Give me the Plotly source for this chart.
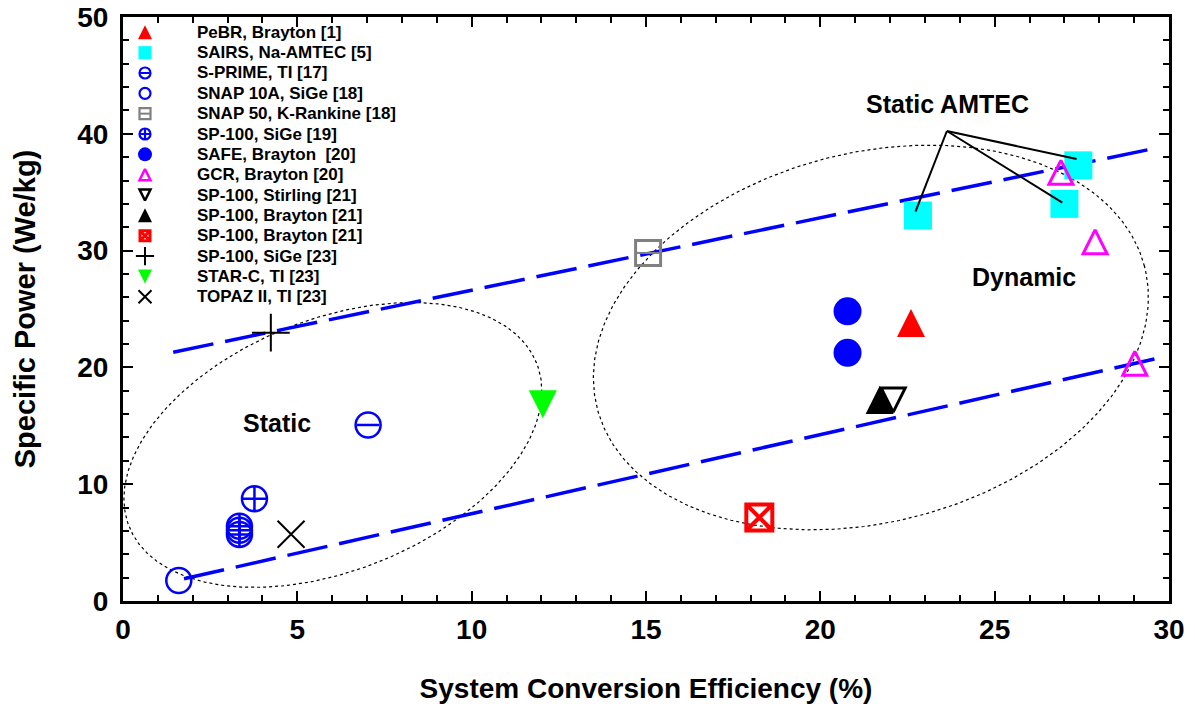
import numpy as np
import plotly.graph_objects as go

# ---------------- data ----------------
pebr_x = [22.6];            pebr_y = [23.8]
sairs_x = [22.8, 27.0, 27.4]; sairs_y = [33.0, 34.0, 37.3]
sprime_x = [7.03];          sprime_y = [15.07]
snap10a_x = [1.6];          snap10a_y = [1.75]
snap50_x = [15.06];         snap50_y = [29.8]
sige19_x = [3.77, 3.34, 3.34, 3.34]; sige19_y = [8.75, 6.4, 6.05, 5.7]
safe_x = [20.78, 20.78];    safe_y = [24.8, 21.25]
gcr_x = [26.9, 27.88, 29.02]; gcr_y = [36.7, 30.75, 20.35]
stirling_x = [22.09];       stirling_y = [17.2]
brayton_x = [21.7];         brayton_y = [17.2]
brayton_red_x = [18.25];    brayton_red_y = [7.15]
sige23_x = [4.24];          sige23_y = [22.97]
starc_x = [12.04];          starc_y = [16.85]
topaz_x = [4.82];           topaz_y = [5.71]

upper_trend_x = [1.44, 29.5];  upper_trend_y = [21.3, 38.7]
lower_trend_x = [1.75, 29.88]; lower_trend_y = [1.9, 20.92]

legend_labels = [
    "PeBR, Brayton [1]", "SAIRS, Na-AMTEC [5]", "S-PRIME, TI [17]",
    "SNAP 10A, SiGe [18]", "SNAP 50, K-Rankine [18]", "SP-100, SiGe [19]",
    "SAFE, Brayton  [20]", "GCR, Brayton [20]", "SP-100, Stirling [21]",
    "SP-100, Brayton [21]", "SP-100, Brayton [21]", "SP-100, SiGe [23]",
    "STAR-C, TI [23]", "TOPAZ II, TI [23]",
]

x_ticks = [0, 5, 10, 15, 20, 25, 30]
y_ticks = [0, 10, 20, 30, 40, 50]

# ---------------- layout constants ----------------
W, H = 1195, 704
PW, PH = 1046, 584              # plot area size in px
ML, MT = 123, 17
MR, MB = W - ML - PW, H - MT - PH
XR, YR = [0, 30], [0, 50]
KX = PW / (XR[1] - XR[0])   # px per x unit
KY = PH / (YR[1] - YR[0])   # px per y unit
FONT = "Liberation Sans, Arial, sans-serif"

RED, CYAN, BLUE, GRAY, MAG, GREEN, BLK = "#FF0000", "#00FFFF", "#0000FF", "#808080", "#FF00FF", "#00FF00", "#000000"

def up_tri(size):
    return dict(symbol="arrow-down", angle=180, standoff=size / 2, size=size)

def up_tri_open(size):
    return dict(symbol="arrow-down-open", angle=180, standoff=size / 2, size=size)

def dn_tri(size):
    return dict(symbol="arrow-down", angle=0, standoff=size / 2, size=size)

def dn_tri_open(size):
    return dict(symbol="arrow-down-open", angle=0, standoff=size / 2, size=size)

# (name, xs, ys, marker layers on the plot, marker layers in the legend)
series = [
    (legend_labels[0], pebr_x, pebr_y,
     [dict(up_tri(28), color=RED)], [dict(up_tri(14), color=RED)]),
    (legend_labels[1], sairs_x, sairs_y,
     [dict(symbol="square", size=28, color=CYAN)], [dict(symbol="square", size=13, color=CYAN)]),
    (legend_labels[2], sprime_x, sprime_y,
     [dict(symbol="circle-open", size=25, color=BLUE, line=dict(width=2.5)),
      dict(symbol="line-ew-open", size=16, color=BLUE, line=dict(width=2.5))],
     [dict(symbol="circle-open", size=11, color=BLUE, line=dict(width=2.2)),
      dict(symbol="line-ew-open", size=7, color=BLUE, line=dict(width=2))]),
    (legend_labels[3], snap10a_x, snap10a_y,
     [dict(symbol="circle-open", size=25, color=BLUE, line=dict(width=2.5))],
     [dict(symbol="circle-open", size=11, color=BLUE, line=dict(width=2.2))]),
    (legend_labels[4], snap50_x, snap50_y,
     [dict(symbol="square-open", size=25, color=GRAY, line=dict(width=3)),
      dict(symbol="line-ew-open", size=17, color=GRAY, line=dict(width=2))],
     [dict(symbol="square-open", size=11, color=GRAY, line=dict(width=2.2)),
      dict(symbol="line-ew-open", size=7, color=GRAY, line=dict(width=2))]),
    (legend_labels[5], sige19_x, sige19_y,
     [dict(symbol="circle-cross-open", size=25, color=BLUE, line=dict(width=2.5))],
     [dict(symbol="circle-cross-open", size=11, color=BLUE, line=dict(width=2.2))]),
    (legend_labels[6], safe_x, safe_y,
     [dict(symbol="circle", size=28, color=BLUE)], [dict(symbol="circle", size=14, color=BLUE)]),
    (legend_labels[7], gcr_x, gcr_y,
     [dict(up_tri_open(24), color=MAG, line=dict(width=3))],
     [dict(up_tri_open(11), color=MAG, line=dict(width=2.5))]),
    (legend_labels[8], stirling_x, stirling_y,
     [dict(dn_tri_open(24), color=BLK, line=dict(width=3))],
     [dict(dn_tri_open(11), color=BLK, line=dict(width=2.5))]),
    (legend_labels[9], brayton_x, brayton_y,
     [dict(up_tri(28), color=BLK)], [dict(up_tri(14), color=BLK)]),
    (legend_labels[10], brayton_red_x, brayton_red_y,
     [dict(symbol="square-x-open", size=26, color=RED, line=dict(width=4))],
     [dict(symbol="square-x-open", size=10, color=RED, line=dict(width=3))]),
    (legend_labels[11], sige23_x, sige23_y,
     [dict(symbol="cross-thin-open", size=27, color=BLK, line=dict(width=2))],
     [dict(symbol="cross-thin-open", size=13, color=BLK, line=dict(width=2))]),
    (legend_labels[12], starc_x, starc_y,
     [dict(dn_tri(28), color=GREEN)], [dict(dn_tri(14), color=GREEN)]),
    (legend_labels[13], topaz_x, topaz_y,
     [dict(symbol="x-thin-open", size=27, color=BLK, line=dict(width=2))],
     [dict(symbol="x-thin-open", size=13, color=BLK, line=dict(width=2))]),
]

fig = go.Figure()

# ellipses (center in data units, semi-axes in px, tilt in degrees)
ellipses = [
    dict(cx=6.02, cy=13.36, a=219.5, b=125.6, ang=21.9),
    dict(cx=21.45, cy=22.56, a=282.7, b=184.6, ang=14.6),
]
t = np.linspace(0, 2 * np.pi, 400)
for e in ellipses:
    th = np.radians(e["ang"])
    X = e["a"] * np.cos(t) * np.cos(th) - e["b"] * np.sin(t) * np.sin(th)
    Y = e["a"] * np.cos(t) * np.sin(th) + e["b"] * np.sin(t) * np.cos(th)
    fig.add_trace(go.Scatter(x=e["cx"] + X / KX, y=e["cy"] + Y / KY, mode="lines",
                             line=dict(color=BLK, width=1.2, dash="3px,3px"),
                             hoverinfo="skip", showlegend=False))

# trend lines
for xs, ys in [(upper_trend_x, upper_trend_y), (lower_trend_x, lower_trend_y)]:
    fig.add_trace(go.Scatter(x=xs, y=ys, mode="lines",
                             line=dict(color=BLUE, width=3.5, dash="41px,12px"),
                             hoverinfo="skip", showlegend=False))

# data markers
for name, xs, ys, big, _ in series:
    for m in big:
        fig.add_trace(go.Scatter(x=xs, y=ys, mode="markers", name=name, marker=m,
                                 showlegend=False))

# manual legend (markers on an overlay axis in fractions of the plot area)
LEG_X = 22 / PW
LEG_TXT_X = 72 / PW
ROW0, ROW_STEP = 15.3, 20.34     # px below the plot top
annotations = []
for i, (name, _, _, _, small) in enumerate(series):
    yf = 1 - (ROW0 + i * ROW_STEP) / PH
    for m in small:
        fig.add_trace(go.Scatter(x=[LEG_X], y=[yf], mode="markers", marker=m, xaxis="x2", yaxis="y2",
                                 showlegend=False, hoverinfo="skip"))
    annotations.append(dict(x=LEG_TXT_X, y=yf, xref="paper", yref="paper", text=name,
                            showarrow=False, xanchor="left", yanchor="middle",
                            font=dict(family=FONT, size=17, color=BLK, weight="bold")))

# region labels
region_labels = [("Static", 4.41, 15.27), ("Dynamic", 25.83, 27.77), ("Static AMTEC", 23.64, 42.55)]
for txt, x, y in region_labels:
    annotations.append(dict(x=x, y=y, xref="x", yref="y", text=txt, showarrow=False,
                            font=dict(family=FONT, size=25, color=BLK, weight="bold")))

# leader lines for "Static AMTEC"
apex = (23.63, 40.24)
leader_ends = [(22.73, 33.33), (27.35, 37.84), (26.94, 34.1)]
shapes = [dict(type="line", xref="x", yref="y", x0=apex[0], y0=apex[1], x1=ex, y1=ey,
               line=dict(color=BLK, width=2)) for ex, ey in leader_ends]

axis_common = dict(showline=True, linecolor=BLK, linewidth=3, mirror="allticks",
                   ticks="inside", ticklen=10, tickwidth=2, tickcolor=BLK,
                   showgrid=False, zeroline=False, ticklabeloverflow="allow",
                   tickfont=dict(family=FONT, size=28, color=BLK, weight="bold"))

fig.update_layout(
    width=W, height=H,
    margin=dict(l=ML, r=MR, t=MT, b=MB, autoexpand=False),
    paper_bgcolor="white", plot_bgcolor="white",
    showlegend=False,
    xaxis=dict(axis_common, range=XR, tickvals=x_ticks, ticklabelstandoff=1,
               minor=dict(ticks="inside", ticklen=6, tickwidth=2, dtick=1, tickcolor=BLK),
               title=dict(text="System Conversion Efficiency (%)", standoff=44,
                          font=dict(family=FONT, size=28, color=BLK, weight="bold"))),
    yaxis=dict(axis_common, range=YR, tickvals=y_ticks, ticklabelstandoff=6,
               minor=dict(ticks="inside", ticklen=6, tickwidth=2, dtick=2, tickcolor=BLK),
               title=dict(text="Specific Power (We/kg)", standoff=34,
                          font=dict(family=FONT, size=29, color=BLK, weight="bold"))),
    xaxis2=dict(overlaying="x", range=[0, 1], visible=False),
    yaxis2=dict(overlaying="y", range=[0, 1], visible=False),
    annotations=annotations,
    shapes=shapes,
)

fig.write_html("out.html", config={"displayModeBar": False},
               post_script="document.body.style.margin='0px';document.body.style.overflow='hidden';")
